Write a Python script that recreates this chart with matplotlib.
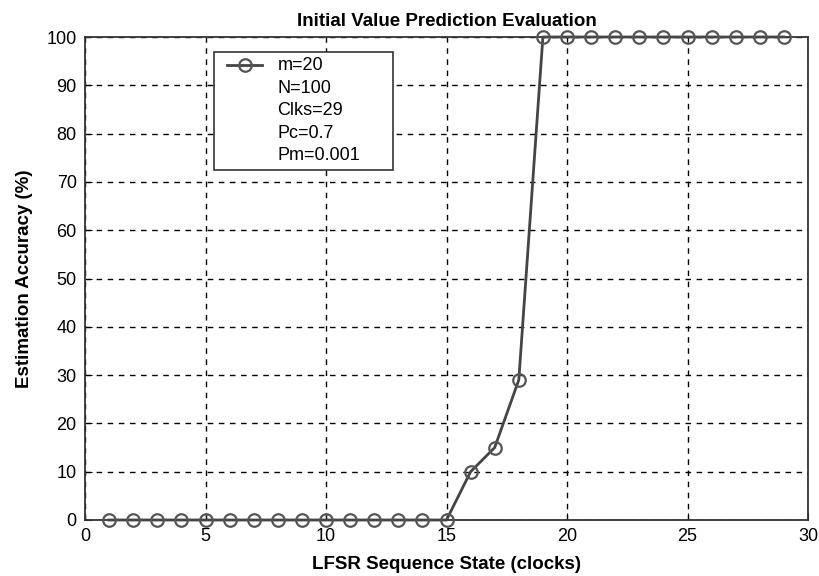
import numpy as np
import matplotlib
matplotlib.use("Agg")
import matplotlib.pyplot as plt
from matplotlib.patches import Rectangle

plt.rcParams['font.family'] = ['Liberation Sans', 'DejaVu Sans']

# data
clocks = list(range(1, 30))
accuracy = [0] * 15 + [10, 15, 29] + [100] * 11

legend_lines = ["m=20", "N=100", "Clks=29", "Pc=0.7", "Pm=0.001"]

fig = plt.figure(figsize=(8.19, 5.76), dpi=100)
ax = fig.add_axes([85 / 819, 56 / 576, 723 / 819, 483 / 576])

line_color = '#444444'
marker_kw = dict(marker='o', markersize=9, markerfacecolor='none',
                 markeredgecolor='#555555', markeredgewidth=1.6)
ax.plot(clocks, accuracy, color=line_color, linewidth=2.0, clip_on=False,
        zorder=3, **marker_kw)

ax.set_xlim(0, 30)
ax.set_ylim(0, 100)
ax.set_xticks(np.arange(0, 31, 5))
ax.set_yticks(np.arange(0, 101, 10))
ax.grid(True, color='black', linestyle=(0, (4, 4)), linewidth=1.0)
ax.tick_params(direction='in', length=5, labelsize=13, colors='black', pad=6)
for s in ax.spines.values():
    s.set_linewidth(1.3)
    s.set_color('#333333')

ax.set_title('Initial Value Prediction Evaluation', fontsize=13.5, fontweight='bold', pad=8)
ax.set_xlabel('LFSR Sequence State (clocks)', fontsize=13.5, fontweight='bold', labelpad=8)
ax.set_ylabel('Estimation Accuracy (%)', fontsize=13.5, fontweight='bold', labelpad=10)

# legend box drawn by hand (MATLAB style, wide right padding)
ax.add_patch(Rectangle((0.178, 0.725), 0.248, 0.244, transform=ax.transAxes,
                       facecolor='white', edgecolor='#333333', linewidth=1.2, zorder=4))
ax.plot([0.196, 0.245], [0.942, 0.942], transform=ax.transAxes, color=line_color,
        linewidth=2.0, zorder=5)
ax.plot([0.221], [0.942], transform=ax.transAxes, zorder=5, **marker_kw)
ys = [0.942, 0.894, 0.847, 0.800, 0.755]
for txt, yy in zip(legend_lines, ys):
    ax.text(0.266, yy, txt, transform=ax.transAxes, fontsize=13,
            va='center', ha='left', zorder=5)

fig.savefig('out.png', dpi=100)
